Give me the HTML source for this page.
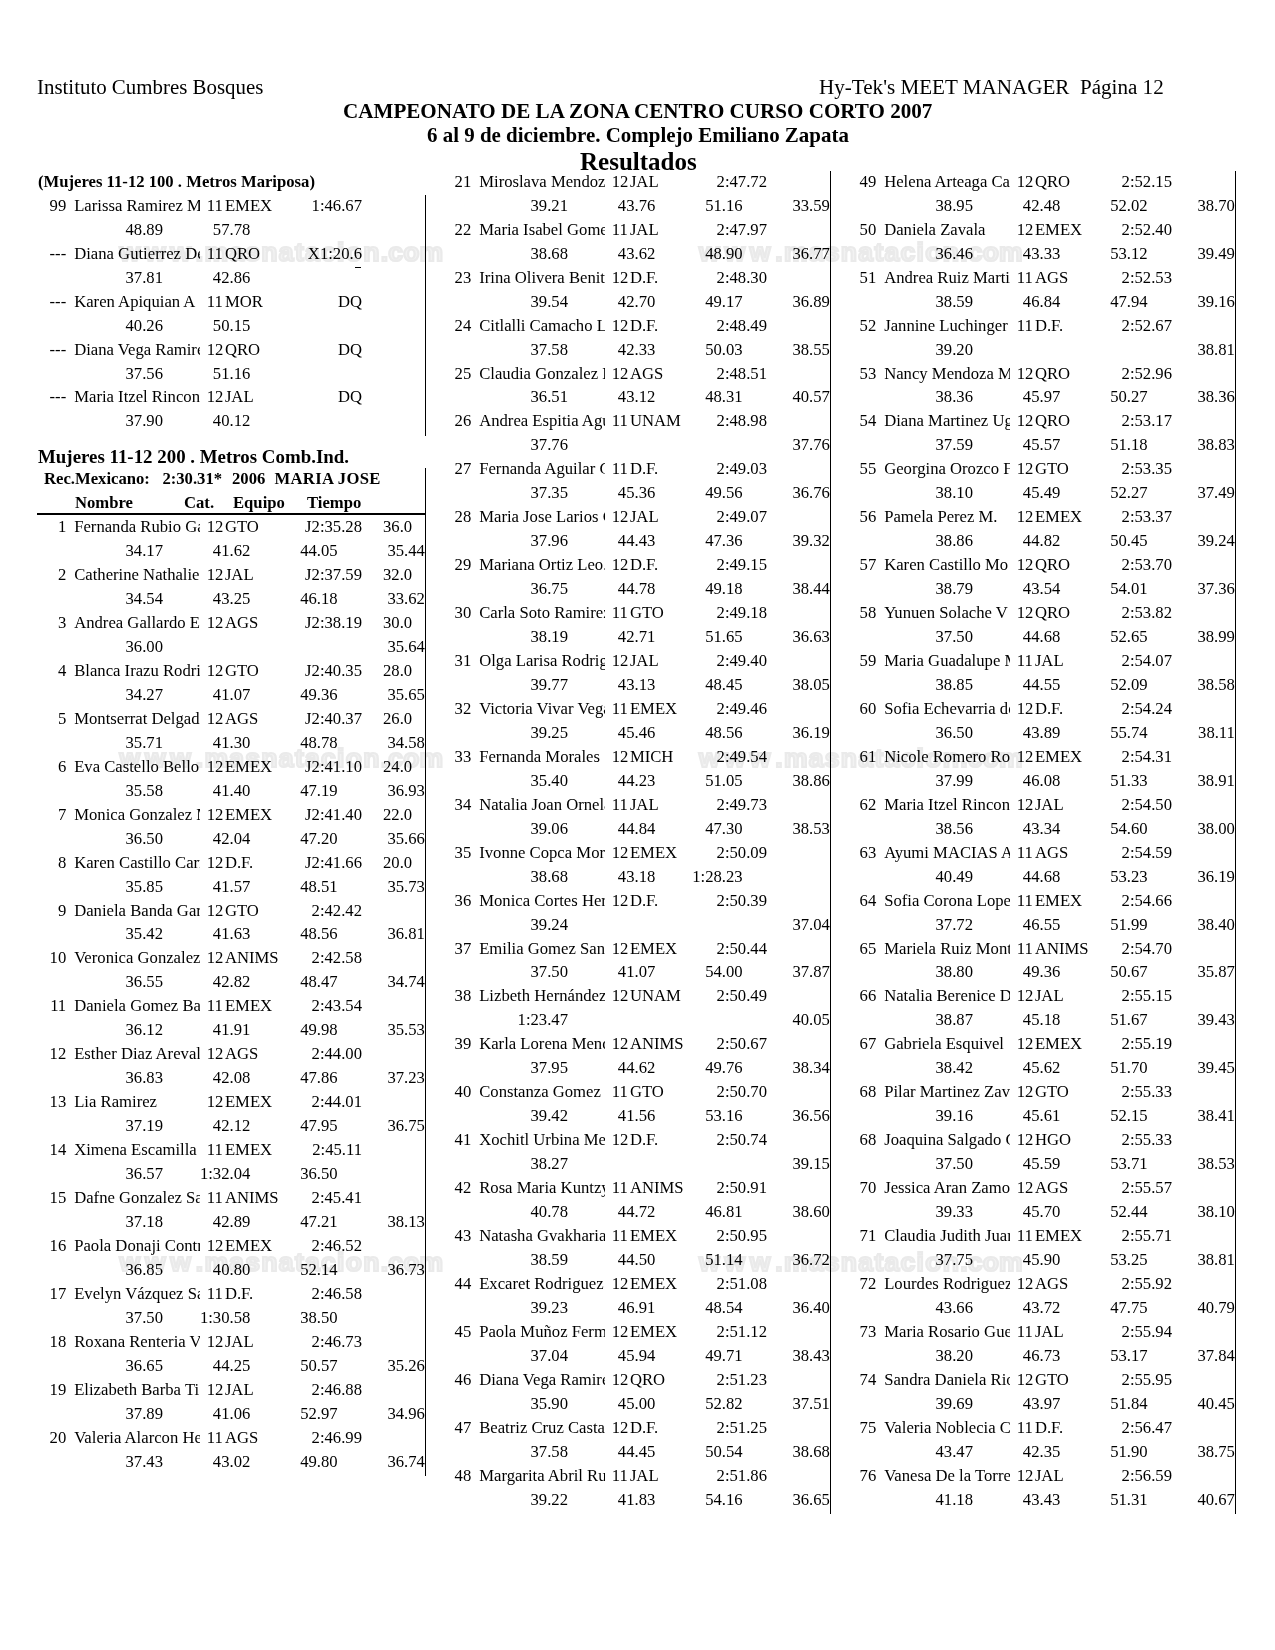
<!DOCTYPE html>
<html><head><meta charset="utf-8"><style>
html,body{margin:0;padding:0;background:#fff;}
#pg{position:absolute;left:0;top:0;width:1275px;height:1650px;will-change:transform;background:#fff;}
body{width:1275px;height:1650px;position:relative;overflow:hidden;}
.t{position:absolute;font-family:"Liberation Serif",serif;font-size:16.67px;line-height:normal;white-space:pre;color:#000;}
.nm{width:125.5px;overflow:hidden;}
.ln{position:absolute;background:#000;}
.wm{position:absolute;font-family:"Liberation Sans",sans-serif;font-weight:bold;font-size:26.5px;line-height:normal;color:#f2f2f2;-webkit-text-stroke:2.2px #eaeaea;white-space:pre;}
</style></head><body><div id="pg">
<div class="wm" style="left:119.5px;top:237px"><span style="letter-spacing:4.8px">www</span><span style="letter-spacing:1.3px">.masnatacion</span><span style="letter-spacing:0.2px">.com</span></div><div class="wm" style="left:699px;top:237px"><span style="letter-spacing:4.8px">www</span><span style="letter-spacing:1.3px">.masnatacion</span><span style="letter-spacing:0.2px">.com</span></div><div class="wm" style="left:119.5px;top:743px"><span style="letter-spacing:4.8px">www</span><span style="letter-spacing:1.3px">.masnatacion</span><span style="letter-spacing:0.2px">.com</span></div><div class="wm" style="left:699px;top:743px"><span style="letter-spacing:4.8px">www</span><span style="letter-spacing:1.3px">.masnatacion</span><span style="letter-spacing:0.2px">.com</span></div><div class="wm" style="left:119.5px;top:1247px"><span style="letter-spacing:4.8px">www</span><span style="letter-spacing:1.3px">.masnatacion</span><span style="letter-spacing:0.2px">.com</span></div><div class="wm" style="left:699px;top:1247px"><span style="letter-spacing:4.8px">www</span><span style="letter-spacing:1.3px">.masnatacion</span><span style="letter-spacing:0.2px">.com</span></div>
<div class="t" style="top:75px;left:37.00px;font-size:20.9px;">Instituto Cumbres Bosques</div>
<div class="t" style="top:75px;left:819.00px;font-size:21.1px;">Hy-Tek&#x27;s MEET MANAGER  Página 12</div>
<div class="t" style="top:99px;left:343.00px;font-size:21.1px;font-weight:bold;">CAMPEONATO DE LA ZONA CENTRO CURSO CORTO 2007</div>
<div class="t" style="top:123px;left:427.00px;font-size:20.95px;font-weight:bold;">6 al 9 de diciembre. Complejo Emiliano Zapata</div>
<div class="t" style="top:148px;left:580.00px;font-size:25px;font-weight:bold;">Resultados</div>
<div class="t" style="top:172px;left:38.00px;font-weight:bold;">(Mujeres 11-12 100 . Metros Mariposa)</div>
<div class="t" style="top:196px;right:1208.80px;">99</div>
<div class="t nm" style="top:196px;left:74.20px">Larissa Ramirez M</div>
<div class="t" style="top:196px;left:206.70px;">11</div>
<div class="t" style="top:196px;left:224.90px;">EMEX</div>
<div class="t" style="top:196px;right:913.00px;">1:46.67</div>
<div class="t" style="top:220px;right:1112.00px;">48.89</div>
<div class="t" style="top:220px;right:1024.70px;">57.78</div>
<div class="t" style="top:244px;right:1208.80px;">---</div>
<div class="t nm" style="top:244px;left:74.20px">Diana Gutierrez De</div>
<div class="t" style="top:244px;left:206.70px;">11</div>
<div class="t" style="top:244px;left:224.90px;">QRO</div>
<div class="t" style="top:244px;right:913.00px;">X1:20.6</div>
<div class="t" style="top:268px;right:1112.00px;">37.81</div>
<div class="t" style="top:268px;right:1024.70px;">42.86</div>
<div class="t" style="top:292px;right:1208.80px;">---</div>
<div class="t nm" style="top:292px;left:74.20px">Karen Apiquian A</div>
<div class="t" style="top:292px;left:206.70px;">11</div>
<div class="t" style="top:292px;left:224.90px;">MOR</div>
<div class="t" style="top:292px;right:913.00px;">DQ</div>
<div class="t" style="top:316px;right:1112.00px;">40.26</div>
<div class="t" style="top:316px;right:1024.70px;">50.15</div>
<div class="t" style="top:340px;right:1208.80px;">---</div>
<div class="t nm" style="top:340px;left:74.20px">Diana Vega Ramirez</div>
<div class="t" style="top:340px;left:206.70px;">12</div>
<div class="t" style="top:340px;left:224.90px;">QRO</div>
<div class="t" style="top:340px;right:913.00px;">DQ</div>
<div class="t" style="top:364px;right:1112.00px;">37.56</div>
<div class="t" style="top:364px;right:1024.70px;">51.16</div>
<div class="t" style="top:387px;right:1208.80px;">---</div>
<div class="t nm" style="top:387px;left:74.20px">Maria Itzel Rincon</div>
<div class="t" style="top:387px;left:206.70px;">12</div>
<div class="t" style="top:387px;left:224.90px;">JAL</div>
<div class="t" style="top:387px;right:913.00px;">DQ</div>
<div class="t" style="top:411px;right:1112.00px;">37.90</div>
<div class="t" style="top:411px;right:1024.70px;">40.12</div>
<div class="t" style="top:446px;left:38.00px;font-size:18.9px;font-weight:bold;">Mujeres 11-12 200 . Metros Comb.Ind.</div>
<div class="t" style="top:469px;left:44.00px;font-weight:bold;">Rec.Mexicano:   2:30.31*</div>
<div class="t" style="top:469px;left:232.00px;font-weight:bold;">2006</div>
<div class="t" style="top:469px;left:274.50px;font-weight:bold;letter-spacing:0.3px;">MARIA JOSE</div>
<div class="t" style="top:493px;left:75.00px;font-weight:bold;">Nombre</div>
<div class="t" style="top:493px;left:184.00px;font-weight:bold;">Cat.</div>
<div class="t" style="top:493px;left:233.00px;font-weight:bold;">Equipo</div>
<div class="t" style="top:493px;left:307.00px;font-weight:bold;">Tiempo</div>
<div class="ln" style="left:37px;top:513px;width:389px;height:2px"></div>
<div class="t" style="top:517px;right:1208.80px;">1</div>
<div class="t nm" style="top:517px;left:74.20px">Fernanda Rubio Garcia</div>
<div class="t" style="top:517px;left:206.70px;">12</div>
<div class="t" style="top:517px;left:224.90px;">GTO</div>
<div class="t" style="top:517px;right:913.00px;">J2:35.28</div>
<div class="t" style="top:517px;left:383.00px;">36.0</div>
<div class="t" style="top:541px;right:1112.00px;">34.17</div>
<div class="t" style="top:541px;right:1024.70px;">41.62</div>
<div class="t" style="top:541px;right:937.40px;">44.05</div>
<div class="t" style="top:541px;right:850.10px;">35.44</div>
<div class="t" style="top:565px;right:1208.80px;">2</div>
<div class="t nm" style="top:565px;left:74.20px">Catherine Nathalie</div>
<div class="t" style="top:565px;left:206.70px;">12</div>
<div class="t" style="top:565px;left:224.90px;">JAL</div>
<div class="t" style="top:565px;right:913.00px;">J2:37.59</div>
<div class="t" style="top:565px;left:383.00px;">32.0</div>
<div class="t" style="top:589px;right:1112.00px;">34.54</div>
<div class="t" style="top:589px;right:1024.70px;">43.25</div>
<div class="t" style="top:589px;right:937.40px;">46.18</div>
<div class="t" style="top:589px;right:850.10px;">33.62</div>
<div class="t" style="top:613px;right:1208.80px;">3</div>
<div class="t nm" style="top:613px;left:74.20px">Andrea Gallardo E</div>
<div class="t" style="top:613px;left:206.70px;">12</div>
<div class="t" style="top:613px;left:224.90px;">AGS</div>
<div class="t" style="top:613px;right:913.00px;">J2:38.19</div>
<div class="t" style="top:613px;left:383.00px;">30.0</div>
<div class="t" style="top:637px;right:1112.00px;">36.00</div>
<div class="t" style="top:637px;right:850.10px;">35.64</div>
<div class="t" style="top:661px;right:1208.80px;">4</div>
<div class="t nm" style="top:661px;left:74.20px">Blanca Irazu Rodriguez</div>
<div class="t" style="top:661px;left:206.70px;">12</div>
<div class="t" style="top:661px;left:224.90px;">GTO</div>
<div class="t" style="top:661px;right:913.00px;">J2:40.35</div>
<div class="t" style="top:661px;left:383.00px;">28.0</div>
<div class="t" style="top:685px;right:1112.00px;">34.27</div>
<div class="t" style="top:685px;right:1024.70px;">41.07</div>
<div class="t" style="top:685px;right:937.40px;">49.36</div>
<div class="t" style="top:685px;right:850.10px;">35.65</div>
<div class="t" style="top:709px;right:1208.80px;">5</div>
<div class="t nm" style="top:709px;left:74.20px">Montserrat Delgado</div>
<div class="t" style="top:709px;left:206.70px;">12</div>
<div class="t" style="top:709px;left:224.90px;">AGS</div>
<div class="t" style="top:709px;right:913.00px;">J2:40.37</div>
<div class="t" style="top:709px;left:383.00px;">26.0</div>
<div class="t" style="top:733px;right:1112.00px;">35.71</div>
<div class="t" style="top:733px;right:1024.70px;">41.30</div>
<div class="t" style="top:733px;right:937.40px;">48.78</div>
<div class="t" style="top:733px;right:850.10px;">34.58</div>
<div class="t" style="top:757px;right:1208.80px;">6</div>
<div class="t nm" style="top:757px;left:74.20px">Eva Castello Bello</div>
<div class="t" style="top:757px;left:206.70px;">12</div>
<div class="t" style="top:757px;left:224.90px;">EMEX</div>
<div class="t" style="top:757px;right:913.00px;">J2:41.10</div>
<div class="t" style="top:757px;left:383.00px;">24.0</div>
<div class="t" style="top:781px;right:1112.00px;">35.58</div>
<div class="t" style="top:781px;right:1024.70px;">41.40</div>
<div class="t" style="top:781px;right:937.40px;">47.19</div>
<div class="t" style="top:781px;right:850.10px;">36.93</div>
<div class="t" style="top:805px;right:1208.80px;">7</div>
<div class="t nm" style="top:805px;left:74.20px">Monica Gonzalez M</div>
<div class="t" style="top:805px;left:206.70px;">12</div>
<div class="t" style="top:805px;left:224.90px;">EMEX</div>
<div class="t" style="top:805px;right:913.00px;">J2:41.40</div>
<div class="t" style="top:805px;left:383.00px;">22.0</div>
<div class="t" style="top:829px;right:1112.00px;">36.50</div>
<div class="t" style="top:829px;right:1024.70px;">42.04</div>
<div class="t" style="top:829px;right:937.40px;">47.20</div>
<div class="t" style="top:829px;right:850.10px;">35.66</div>
<div class="t" style="top:853px;right:1208.80px;">8</div>
<div class="t nm" style="top:853px;left:74.20px">Karen Castillo Carr</div>
<div class="t" style="top:853px;left:206.70px;">12</div>
<div class="t" style="top:853px;left:224.90px;">D.F.</div>
<div class="t" style="top:853px;right:913.00px;">J2:41.66</div>
<div class="t" style="top:853px;left:383.00px;">20.0</div>
<div class="t" style="top:877px;right:1112.00px;">35.85</div>
<div class="t" style="top:877px;right:1024.70px;">41.57</div>
<div class="t" style="top:877px;right:937.40px;">48.51</div>
<div class="t" style="top:877px;right:850.10px;">35.73</div>
<div class="t" style="top:901px;right:1208.80px;">9</div>
<div class="t nm" style="top:901px;left:74.20px">Daniela Banda Garcia</div>
<div class="t" style="top:901px;left:206.70px;">12</div>
<div class="t" style="top:901px;left:224.90px;">GTO</div>
<div class="t" style="top:901px;right:913.00px;">2:42.42</div>
<div class="t" style="top:924px;right:1112.00px;">35.42</div>
<div class="t" style="top:924px;right:1024.70px;">41.63</div>
<div class="t" style="top:924px;right:937.40px;">48.56</div>
<div class="t" style="top:924px;right:850.10px;">36.81</div>
<div class="t" style="top:948px;right:1208.80px;">10</div>
<div class="t nm" style="top:948px;left:74.20px">Veronica Gonzalez</div>
<div class="t" style="top:948px;left:206.70px;">12</div>
<div class="t" style="top:948px;left:224.90px;">ANIMS</div>
<div class="t" style="top:948px;right:913.00px;">2:42.58</div>
<div class="t" style="top:972px;right:1112.00px;">36.55</div>
<div class="t" style="top:972px;right:1024.70px;">42.82</div>
<div class="t" style="top:972px;right:937.40px;">48.47</div>
<div class="t" style="top:972px;right:850.10px;">34.74</div>
<div class="t" style="top:996px;right:1208.80px;">11</div>
<div class="t nm" style="top:996px;left:74.20px">Daniela Gomez Bautista</div>
<div class="t" style="top:996px;left:206.70px;">11</div>
<div class="t" style="top:996px;left:224.90px;">EMEX</div>
<div class="t" style="top:996px;right:913.00px;">2:43.54</div>
<div class="t" style="top:1020px;right:1112.00px;">36.12</div>
<div class="t" style="top:1020px;right:1024.70px;">41.91</div>
<div class="t" style="top:1020px;right:937.40px;">49.98</div>
<div class="t" style="top:1020px;right:850.10px;">35.53</div>
<div class="t" style="top:1044px;right:1208.80px;">12</div>
<div class="t nm" style="top:1044px;left:74.20px">Esther Diaz Arevalo</div>
<div class="t" style="top:1044px;left:206.70px;">12</div>
<div class="t" style="top:1044px;left:224.90px;">AGS</div>
<div class="t" style="top:1044px;right:913.00px;">2:44.00</div>
<div class="t" style="top:1068px;right:1112.00px;">36.83</div>
<div class="t" style="top:1068px;right:1024.70px;">42.08</div>
<div class="t" style="top:1068px;right:937.40px;">47.86</div>
<div class="t" style="top:1068px;right:850.10px;">37.23</div>
<div class="t" style="top:1092px;right:1208.80px;">13</div>
<div class="t nm" style="top:1092px;left:74.20px">Lia Ramirez</div>
<div class="t" style="top:1092px;left:206.70px;">12</div>
<div class="t" style="top:1092px;left:224.90px;">EMEX</div>
<div class="t" style="top:1092px;right:913.00px;">2:44.01</div>
<div class="t" style="top:1116px;right:1112.00px;">37.19</div>
<div class="t" style="top:1116px;right:1024.70px;">42.12</div>
<div class="t" style="top:1116px;right:937.40px;">47.95</div>
<div class="t" style="top:1116px;right:850.10px;">36.75</div>
<div class="t" style="top:1140px;right:1208.80px;">14</div>
<div class="t nm" style="top:1140px;left:74.20px">Ximena Escamilla</div>
<div class="t" style="top:1140px;left:206.70px;">11</div>
<div class="t" style="top:1140px;left:224.90px;">EMEX</div>
<div class="t" style="top:1140px;right:913.00px;">2:45.11</div>
<div class="t" style="top:1164px;right:1112.00px;">36.57</div>
<div class="t" style="top:1164px;right:1024.70px;">1:32.04</div>
<div class="t" style="top:1164px;right:937.40px;">36.50</div>
<div class="t" style="top:1188px;right:1208.80px;">15</div>
<div class="t nm" style="top:1188px;left:74.20px">Dafne Gonzalez Sanchez</div>
<div class="t" style="top:1188px;left:206.70px;">11</div>
<div class="t" style="top:1188px;left:224.90px;">ANIMS</div>
<div class="t" style="top:1188px;right:913.00px;">2:45.41</div>
<div class="t" style="top:1212px;right:1112.00px;">37.18</div>
<div class="t" style="top:1212px;right:1024.70px;">42.89</div>
<div class="t" style="top:1212px;right:937.40px;">47.21</div>
<div class="t" style="top:1212px;right:850.10px;">38.13</div>
<div class="t" style="top:1236px;right:1208.80px;">16</div>
<div class="t nm" style="top:1236px;left:74.20px">Paola Donaji Contreras</div>
<div class="t" style="top:1236px;left:206.70px;">12</div>
<div class="t" style="top:1236px;left:224.90px;">EMEX</div>
<div class="t" style="top:1236px;right:913.00px;">2:46.52</div>
<div class="t" style="top:1260px;right:1112.00px;">36.85</div>
<div class="t" style="top:1260px;right:1024.70px;">40.80</div>
<div class="t" style="top:1260px;right:937.40px;">52.14</div>
<div class="t" style="top:1260px;right:850.10px;">36.73</div>
<div class="t" style="top:1284px;right:1208.80px;">17</div>
<div class="t nm" style="top:1284px;left:74.20px">Evelyn Vázquez Sanchez</div>
<div class="t" style="top:1284px;left:206.70px;">11</div>
<div class="t" style="top:1284px;left:224.90px;">D.F.</div>
<div class="t" style="top:1284px;right:913.00px;">2:46.58</div>
<div class="t" style="top:1308px;right:1112.00px;">37.50</div>
<div class="t" style="top:1308px;right:1024.70px;">1:30.58</div>
<div class="t" style="top:1308px;right:937.40px;">38.50</div>
<div class="t" style="top:1332px;right:1208.80px;">18</div>
<div class="t nm" style="top:1332px;left:74.20px">Roxana Renteria V</div>
<div class="t" style="top:1332px;left:206.70px;">12</div>
<div class="t" style="top:1332px;left:224.90px;">JAL</div>
<div class="t" style="top:1332px;right:913.00px;">2:46.73</div>
<div class="t" style="top:1356px;right:1112.00px;">36.65</div>
<div class="t" style="top:1356px;right:1024.70px;">44.25</div>
<div class="t" style="top:1356px;right:937.40px;">50.57</div>
<div class="t" style="top:1356px;right:850.10px;">35.26</div>
<div class="t" style="top:1380px;right:1208.80px;">19</div>
<div class="t nm" style="top:1380px;left:74.20px">Elizabeth Barba Ti</div>
<div class="t" style="top:1380px;left:206.70px;">12</div>
<div class="t" style="top:1380px;left:224.90px;">JAL</div>
<div class="t" style="top:1380px;right:913.00px;">2:46.88</div>
<div class="t" style="top:1404px;right:1112.00px;">37.89</div>
<div class="t" style="top:1404px;right:1024.70px;">41.06</div>
<div class="t" style="top:1404px;right:937.40px;">52.97</div>
<div class="t" style="top:1404px;right:850.10px;">34.96</div>
<div class="t" style="top:1428px;right:1208.80px;">20</div>
<div class="t nm" style="top:1428px;left:74.20px">Valeria Alarcon Hernandez</div>
<div class="t" style="top:1428px;left:206.70px;">11</div>
<div class="t" style="top:1428px;left:224.90px;">AGS</div>
<div class="t" style="top:1428px;right:913.00px;">2:46.99</div>
<div class="t" style="top:1452px;right:1112.00px;">37.43</div>
<div class="t" style="top:1452px;right:1024.70px;">43.02</div>
<div class="t" style="top:1452px;right:937.40px;">49.80</div>
<div class="t" style="top:1452px;right:850.10px;">36.74</div>
<div class="t" style="top:172px;right:803.80px;">21</div>
<div class="t nm" style="top:172px;left:479.20px">Miroslava Mendoza</div>
<div class="t" style="top:172px;left:611.70px;">12</div>
<div class="t" style="top:172px;left:629.90px;">JAL</div>
<div class="t" style="top:172px;right:508.00px;">2:47.72</div>
<div class="t" style="top:196px;right:707.00px;">39.21</div>
<div class="t" style="top:196px;right:619.70px;">43.76</div>
<div class="t" style="top:196px;right:532.40px;">51.16</div>
<div class="t" style="top:196px;right:445.10px;">33.59</div>
<div class="t" style="top:220px;right:803.80px;">22</div>
<div class="t nm" style="top:220px;left:479.20px">Maria Isabel Gomez</div>
<div class="t" style="top:220px;left:611.70px;">11</div>
<div class="t" style="top:220px;left:629.90px;">JAL</div>
<div class="t" style="top:220px;right:508.00px;">2:47.97</div>
<div class="t" style="top:244px;right:707.00px;">38.68</div>
<div class="t" style="top:244px;right:619.70px;">43.62</div>
<div class="t" style="top:244px;right:532.40px;">48.90</div>
<div class="t" style="top:244px;right:445.10px;">36.77</div>
<div class="t" style="top:268px;right:803.80px;">23</div>
<div class="t nm" style="top:268px;left:479.20px">Irina Olivera Benitez</div>
<div class="t" style="top:268px;left:611.70px;">12</div>
<div class="t" style="top:268px;left:629.90px;">D.F.</div>
<div class="t" style="top:268px;right:508.00px;">2:48.30</div>
<div class="t" style="top:292px;right:707.00px;">39.54</div>
<div class="t" style="top:292px;right:619.70px;">42.70</div>
<div class="t" style="top:292px;right:532.40px;">49.17</div>
<div class="t" style="top:292px;right:445.10px;">36.89</div>
<div class="t" style="top:316px;right:803.80px;">24</div>
<div class="t nm" style="top:316px;left:479.20px">Citlalli Camacho L</div>
<div class="t" style="top:316px;left:611.70px;">12</div>
<div class="t" style="top:316px;left:629.90px;">D.F.</div>
<div class="t" style="top:316px;right:508.00px;">2:48.49</div>
<div class="t" style="top:340px;right:707.00px;">37.58</div>
<div class="t" style="top:340px;right:619.70px;">42.33</div>
<div class="t" style="top:340px;right:532.40px;">50.03</div>
<div class="t" style="top:340px;right:445.10px;">38.55</div>
<div class="t" style="top:364px;right:803.80px;">25</div>
<div class="t nm" style="top:364px;left:479.20px">Claudia Gonzalez M</div>
<div class="t" style="top:364px;left:611.70px;">12</div>
<div class="t" style="top:364px;left:629.90px;">AGS</div>
<div class="t" style="top:364px;right:508.00px;">2:48.51</div>
<div class="t" style="top:387px;right:707.00px;">36.51</div>
<div class="t" style="top:387px;right:619.70px;">43.12</div>
<div class="t" style="top:387px;right:532.40px;">48.31</div>
<div class="t" style="top:387px;right:445.10px;">40.57</div>
<div class="t" style="top:411px;right:803.80px;">26</div>
<div class="t nm" style="top:411px;left:479.20px">Andrea Espitia Aguilar</div>
<div class="t" style="top:411px;left:611.70px;">11</div>
<div class="t" style="top:411px;left:629.90px;">UNAM</div>
<div class="t" style="top:411px;right:508.00px;">2:48.98</div>
<div class="t" style="top:435px;right:707.00px;">37.76</div>
<div class="t" style="top:435px;right:445.10px;">37.76</div>
<div class="t" style="top:459px;right:803.80px;">27</div>
<div class="t nm" style="top:459px;left:479.20px">Fernanda Aguilar Garcia</div>
<div class="t" style="top:459px;left:611.70px;">11</div>
<div class="t" style="top:459px;left:629.90px;">D.F.</div>
<div class="t" style="top:459px;right:508.00px;">2:49.03</div>
<div class="t" style="top:483px;right:707.00px;">37.35</div>
<div class="t" style="top:483px;right:619.70px;">45.36</div>
<div class="t" style="top:483px;right:532.40px;">49.56</div>
<div class="t" style="top:483px;right:445.10px;">36.76</div>
<div class="t" style="top:507px;right:803.80px;">28</div>
<div class="t nm" style="top:507px;left:479.20px">Maria Jose Larios Garcia</div>
<div class="t" style="top:507px;left:611.70px;">12</div>
<div class="t" style="top:507px;left:629.90px;">JAL</div>
<div class="t" style="top:507px;right:508.00px;">2:49.07</div>
<div class="t" style="top:531px;right:707.00px;">37.96</div>
<div class="t" style="top:531px;right:619.70px;">44.43</div>
<div class="t" style="top:531px;right:532.40px;">47.36</div>
<div class="t" style="top:531px;right:445.10px;">39.32</div>
<div class="t" style="top:555px;right:803.80px;">29</div>
<div class="t nm" style="top:555px;left:479.20px">Mariana Ortiz Leo.</div>
<div class="t" style="top:555px;left:611.70px;">12</div>
<div class="t" style="top:555px;left:629.90px;">D.F.</div>
<div class="t" style="top:555px;right:508.00px;">2:49.15</div>
<div class="t" style="top:579px;right:707.00px;">36.75</div>
<div class="t" style="top:579px;right:619.70px;">44.78</div>
<div class="t" style="top:579px;right:532.40px;">49.18</div>
<div class="t" style="top:579px;right:445.10px;">38.44</div>
<div class="t" style="top:603px;right:803.80px;">30</div>
<div class="t nm" style="top:603px;left:479.20px">Carla Soto Ramirez</div>
<div class="t" style="top:603px;left:611.70px;">11</div>
<div class="t" style="top:603px;left:629.90px;">GTO</div>
<div class="t" style="top:603px;right:508.00px;">2:49.18</div>
<div class="t" style="top:627px;right:707.00px;">38.19</div>
<div class="t" style="top:627px;right:619.70px;">42.71</div>
<div class="t" style="top:627px;right:532.40px;">51.65</div>
<div class="t" style="top:627px;right:445.10px;">36.63</div>
<div class="t" style="top:651px;right:803.80px;">31</div>
<div class="t nm" style="top:651px;left:479.20px">Olga Larisa Rodriguez</div>
<div class="t" style="top:651px;left:611.70px;">12</div>
<div class="t" style="top:651px;left:629.90px;">JAL</div>
<div class="t" style="top:651px;right:508.00px;">2:49.40</div>
<div class="t" style="top:675px;right:707.00px;">39.77</div>
<div class="t" style="top:675px;right:619.70px;">43.13</div>
<div class="t" style="top:675px;right:532.40px;">48.45</div>
<div class="t" style="top:675px;right:445.10px;">38.05</div>
<div class="t" style="top:699px;right:803.80px;">32</div>
<div class="t nm" style="top:699px;left:479.20px">Victoria Vivar Vega</div>
<div class="t" style="top:699px;left:611.70px;">11</div>
<div class="t" style="top:699px;left:629.90px;">EMEX</div>
<div class="t" style="top:699px;right:508.00px;">2:49.46</div>
<div class="t" style="top:723px;right:707.00px;">39.25</div>
<div class="t" style="top:723px;right:619.70px;">45.46</div>
<div class="t" style="top:723px;right:532.40px;">48.56</div>
<div class="t" style="top:723px;right:445.10px;">36.19</div>
<div class="t" style="top:747px;right:803.80px;">33</div>
<div class="t nm" style="top:747px;left:479.20px">Fernanda Morales</div>
<div class="t" style="top:747px;left:611.70px;">12</div>
<div class="t" style="top:747px;left:629.90px;">MICH</div>
<div class="t" style="top:747px;right:508.00px;">2:49.54</div>
<div class="t" style="top:771px;right:707.00px;">35.40</div>
<div class="t" style="top:771px;right:619.70px;">44.23</div>
<div class="t" style="top:771px;right:532.40px;">51.05</div>
<div class="t" style="top:771px;right:445.10px;">38.86</div>
<div class="t" style="top:795px;right:803.80px;">34</div>
<div class="t nm" style="top:795px;left:479.20px">Natalia Joan Ornelas</div>
<div class="t" style="top:795px;left:611.70px;">11</div>
<div class="t" style="top:795px;left:629.90px;">JAL</div>
<div class="t" style="top:795px;right:508.00px;">2:49.73</div>
<div class="t" style="top:819px;right:707.00px;">39.06</div>
<div class="t" style="top:819px;right:619.70px;">44.84</div>
<div class="t" style="top:819px;right:532.40px;">47.30</div>
<div class="t" style="top:819px;right:445.10px;">38.53</div>
<div class="t" style="top:843px;right:803.80px;">35</div>
<div class="t nm" style="top:843px;left:479.20px">Ivonne Copca Morales</div>
<div class="t" style="top:843px;left:611.70px;">12</div>
<div class="t" style="top:843px;left:629.90px;">EMEX</div>
<div class="t" style="top:843px;right:508.00px;">2:50.09</div>
<div class="t" style="top:867px;right:707.00px;">38.68</div>
<div class="t" style="top:867px;right:619.70px;">43.18</div>
<div class="t" style="top:867px;right:532.40px;">1:28.23</div>
<div class="t" style="top:891px;right:803.80px;">36</div>
<div class="t nm" style="top:891px;left:479.20px">Monica Cortes Hernandez</div>
<div class="t" style="top:891px;left:611.70px;">12</div>
<div class="t" style="top:891px;left:629.90px;">D.F.</div>
<div class="t" style="top:891px;right:508.00px;">2:50.39</div>
<div class="t" style="top:915px;right:707.00px;">39.24</div>
<div class="t" style="top:915px;right:445.10px;">37.04</div>
<div class="t" style="top:939px;right:803.80px;">37</div>
<div class="t nm" style="top:939px;left:479.20px">Emilia Gomez Sanchez</div>
<div class="t" style="top:939px;left:611.70px;">12</div>
<div class="t" style="top:939px;left:629.90px;">EMEX</div>
<div class="t" style="top:939px;right:508.00px;">2:50.44</div>
<div class="t" style="top:962px;right:707.00px;">37.50</div>
<div class="t" style="top:962px;right:619.70px;">41.07</div>
<div class="t" style="top:962px;right:532.40px;">54.00</div>
<div class="t" style="top:962px;right:445.10px;">37.87</div>
<div class="t" style="top:986px;right:803.80px;">38</div>
<div class="t nm" style="top:986px;left:479.20px">Lizbeth Hernández</div>
<div class="t" style="top:986px;left:611.70px;">12</div>
<div class="t" style="top:986px;left:629.90px;">UNAM</div>
<div class="t" style="top:986px;right:508.00px;">2:50.49</div>
<div class="t" style="top:1010px;right:707.00px;">1:23.47</div>
<div class="t" style="top:1010px;right:445.10px;">40.05</div>
<div class="t" style="top:1034px;right:803.80px;">39</div>
<div class="t nm" style="top:1034px;left:479.20px">Karla Lorena Mendoza</div>
<div class="t" style="top:1034px;left:611.70px;">12</div>
<div class="t" style="top:1034px;left:629.90px;">ANIMS</div>
<div class="t" style="top:1034px;right:508.00px;">2:50.67</div>
<div class="t" style="top:1058px;right:707.00px;">37.95</div>
<div class="t" style="top:1058px;right:619.70px;">44.62</div>
<div class="t" style="top:1058px;right:532.40px;">49.76</div>
<div class="t" style="top:1058px;right:445.10px;">38.34</div>
<div class="t" style="top:1082px;right:803.80px;">40</div>
<div class="t nm" style="top:1082px;left:479.20px">Constanza Gomez</div>
<div class="t" style="top:1082px;left:611.70px;">11</div>
<div class="t" style="top:1082px;left:629.90px;">GTO</div>
<div class="t" style="top:1082px;right:508.00px;">2:50.70</div>
<div class="t" style="top:1106px;right:707.00px;">39.42</div>
<div class="t" style="top:1106px;right:619.70px;">41.56</div>
<div class="t" style="top:1106px;right:532.40px;">53.16</div>
<div class="t" style="top:1106px;right:445.10px;">36.56</div>
<div class="t" style="top:1130px;right:803.80px;">41</div>
<div class="t nm" style="top:1130px;left:479.20px">Xochitl Urbina Mendez</div>
<div class="t" style="top:1130px;left:611.70px;">12</div>
<div class="t" style="top:1130px;left:629.90px;">D.F.</div>
<div class="t" style="top:1130px;right:508.00px;">2:50.74</div>
<div class="t" style="top:1154px;right:707.00px;">38.27</div>
<div class="t" style="top:1154px;right:445.10px;">39.15</div>
<div class="t" style="top:1178px;right:803.80px;">42</div>
<div class="t nm" style="top:1178px;left:479.20px">Rosa Maria Kuntzy</div>
<div class="t" style="top:1178px;left:611.70px;">11</div>
<div class="t" style="top:1178px;left:629.90px;">ANIMS</div>
<div class="t" style="top:1178px;right:508.00px;">2:50.91</div>
<div class="t" style="top:1202px;right:707.00px;">40.78</div>
<div class="t" style="top:1202px;right:619.70px;">44.72</div>
<div class="t" style="top:1202px;right:532.40px;">46.81</div>
<div class="t" style="top:1202px;right:445.10px;">38.60</div>
<div class="t" style="top:1226px;right:803.80px;">43</div>
<div class="t nm" style="top:1226px;left:479.20px">Natasha Gvakharia</div>
<div class="t" style="top:1226px;left:611.70px;">11</div>
<div class="t" style="top:1226px;left:629.90px;">EMEX</div>
<div class="t" style="top:1226px;right:508.00px;">2:50.95</div>
<div class="t" style="top:1250px;right:707.00px;">38.59</div>
<div class="t" style="top:1250px;right:619.70px;">44.50</div>
<div class="t" style="top:1250px;right:532.40px;">51.14</div>
<div class="t" style="top:1250px;right:445.10px;">36.72</div>
<div class="t" style="top:1274px;right:803.80px;">44</div>
<div class="t nm" style="top:1274px;left:479.20px">Excaret Rodriguez</div>
<div class="t" style="top:1274px;left:611.70px;">12</div>
<div class="t" style="top:1274px;left:629.90px;">EMEX</div>
<div class="t" style="top:1274px;right:508.00px;">2:51.08</div>
<div class="t" style="top:1298px;right:707.00px;">39.23</div>
<div class="t" style="top:1298px;right:619.70px;">46.91</div>
<div class="t" style="top:1298px;right:532.40px;">48.54</div>
<div class="t" style="top:1298px;right:445.10px;">36.40</div>
<div class="t" style="top:1322px;right:803.80px;">45</div>
<div class="t nm" style="top:1322px;left:479.20px">Paola Muñoz Fermin</div>
<div class="t" style="top:1322px;left:611.70px;">12</div>
<div class="t" style="top:1322px;left:629.90px;">EMEX</div>
<div class="t" style="top:1322px;right:508.00px;">2:51.12</div>
<div class="t" style="top:1346px;right:707.00px;">37.04</div>
<div class="t" style="top:1346px;right:619.70px;">45.94</div>
<div class="t" style="top:1346px;right:532.40px;">49.71</div>
<div class="t" style="top:1346px;right:445.10px;">38.43</div>
<div class="t" style="top:1370px;right:803.80px;">46</div>
<div class="t nm" style="top:1370px;left:479.20px">Diana Vega Ramirez</div>
<div class="t" style="top:1370px;left:611.70px;">12</div>
<div class="t" style="top:1370px;left:629.90px;">QRO</div>
<div class="t" style="top:1370px;right:508.00px;">2:51.23</div>
<div class="t" style="top:1394px;right:707.00px;">35.90</div>
<div class="t" style="top:1394px;right:619.70px;">45.00</div>
<div class="t" style="top:1394px;right:532.40px;">52.82</div>
<div class="t" style="top:1394px;right:445.10px;">37.51</div>
<div class="t" style="top:1418px;right:803.80px;">47</div>
<div class="t nm" style="top:1418px;left:479.20px">Beatriz Cruz Castaneda</div>
<div class="t" style="top:1418px;left:611.70px;">12</div>
<div class="t" style="top:1418px;left:629.90px;">D.F.</div>
<div class="t" style="top:1418px;right:508.00px;">2:51.25</div>
<div class="t" style="top:1442px;right:707.00px;">37.58</div>
<div class="t" style="top:1442px;right:619.70px;">44.45</div>
<div class="t" style="top:1442px;right:532.40px;">50.54</div>
<div class="t" style="top:1442px;right:445.10px;">38.68</div>
<div class="t" style="top:1466px;right:803.80px;">48</div>
<div class="t nm" style="top:1466px;left:479.20px">Margarita Abril Ruiz</div>
<div class="t" style="top:1466px;left:611.70px;">11</div>
<div class="t" style="top:1466px;left:629.90px;">JAL</div>
<div class="t" style="top:1466px;right:508.00px;">2:51.86</div>
<div class="t" style="top:1490px;right:707.00px;">39.22</div>
<div class="t" style="top:1490px;right:619.70px;">41.83</div>
<div class="t" style="top:1490px;right:532.40px;">54.16</div>
<div class="t" style="top:1490px;right:445.10px;">36.65</div>
<div class="t" style="top:172px;right:398.80px;">49</div>
<div class="t nm" style="top:172px;left:884.20px">Helena Arteaga Castro</div>
<div class="t" style="top:172px;left:1016.70px;">12</div>
<div class="t" style="top:172px;left:1034.90px;">QRO</div>
<div class="t" style="top:172px;right:103.00px;">2:52.15</div>
<div class="t" style="top:196px;right:302.00px;">38.95</div>
<div class="t" style="top:196px;right:214.70px;">42.48</div>
<div class="t" style="top:196px;right:127.40px;">52.02</div>
<div class="t" style="top:196px;right:40.10px;">38.70</div>
<div class="t" style="top:220px;right:398.80px;">50</div>
<div class="t nm" style="top:220px;left:884.20px">Daniela Zavala</div>
<div class="t" style="top:220px;left:1016.70px;">12</div>
<div class="t" style="top:220px;left:1034.90px;">EMEX</div>
<div class="t" style="top:220px;right:103.00px;">2:52.40</div>
<div class="t" style="top:244px;right:302.00px;">36.46</div>
<div class="t" style="top:244px;right:214.70px;">43.33</div>
<div class="t" style="top:244px;right:127.40px;">53.12</div>
<div class="t" style="top:244px;right:40.10px;">39.49</div>
<div class="t" style="top:268px;right:398.80px;">51</div>
<div class="t nm" style="top:268px;left:884.20px">Andrea Ruiz Martinez</div>
<div class="t" style="top:268px;left:1016.70px;">11</div>
<div class="t" style="top:268px;left:1034.90px;">AGS</div>
<div class="t" style="top:268px;right:103.00px;">2:52.53</div>
<div class="t" style="top:292px;right:302.00px;">38.59</div>
<div class="t" style="top:292px;right:214.70px;">46.84</div>
<div class="t" style="top:292px;right:127.40px;">47.94</div>
<div class="t" style="top:292px;right:40.10px;">39.16</div>
<div class="t" style="top:316px;right:398.80px;">52</div>
<div class="t nm" style="top:316px;left:884.20px">Jannine Luchinger</div>
<div class="t" style="top:316px;left:1016.70px;">11</div>
<div class="t" style="top:316px;left:1034.90px;">D.F.</div>
<div class="t" style="top:316px;right:103.00px;">2:52.67</div>
<div class="t" style="top:340px;right:302.00px;">39.20</div>
<div class="t" style="top:340px;right:40.10px;">38.81</div>
<div class="t" style="top:364px;right:398.80px;">53</div>
<div class="t nm" style="top:364px;left:884.20px">Nancy Mendoza M</div>
<div class="t" style="top:364px;left:1016.70px;">12</div>
<div class="t" style="top:364px;left:1034.90px;">QRO</div>
<div class="t" style="top:364px;right:103.00px;">2:52.96</div>
<div class="t" style="top:387px;right:302.00px;">38.36</div>
<div class="t" style="top:387px;right:214.70px;">45.97</div>
<div class="t" style="top:387px;right:127.40px;">50.27</div>
<div class="t" style="top:387px;right:40.10px;">38.36</div>
<div class="t" style="top:411px;right:398.80px;">54</div>
<div class="t nm" style="top:411px;left:884.20px">Diana Martinez Ugalde</div>
<div class="t" style="top:411px;left:1016.70px;">12</div>
<div class="t" style="top:411px;left:1034.90px;">QRO</div>
<div class="t" style="top:411px;right:103.00px;">2:53.17</div>
<div class="t" style="top:435px;right:302.00px;">37.59</div>
<div class="t" style="top:435px;right:214.70px;">45.57</div>
<div class="t" style="top:435px;right:127.40px;">51.18</div>
<div class="t" style="top:435px;right:40.10px;">38.83</div>
<div class="t" style="top:459px;right:398.80px;">55</div>
<div class="t nm" style="top:459px;left:884.20px">Georgina Orozco F</div>
<div class="t" style="top:459px;left:1016.70px;">12</div>
<div class="t" style="top:459px;left:1034.90px;">GTO</div>
<div class="t" style="top:459px;right:103.00px;">2:53.35</div>
<div class="t" style="top:483px;right:302.00px;">38.10</div>
<div class="t" style="top:483px;right:214.70px;">45.49</div>
<div class="t" style="top:483px;right:127.40px;">52.27</div>
<div class="t" style="top:483px;right:40.10px;">37.49</div>
<div class="t" style="top:507px;right:398.80px;">56</div>
<div class="t nm" style="top:507px;left:884.20px">Pamela Perez M.</div>
<div class="t" style="top:507px;left:1016.70px;">12</div>
<div class="t" style="top:507px;left:1034.90px;">EMEX</div>
<div class="t" style="top:507px;right:103.00px;">2:53.37</div>
<div class="t" style="top:531px;right:302.00px;">38.86</div>
<div class="t" style="top:531px;right:214.70px;">44.82</div>
<div class="t" style="top:531px;right:127.40px;">50.45</div>
<div class="t" style="top:531px;right:40.10px;">39.24</div>
<div class="t" style="top:555px;right:398.80px;">57</div>
<div class="t nm" style="top:555px;left:884.20px">Karen Castillo Mo</div>
<div class="t" style="top:555px;left:1016.70px;">12</div>
<div class="t" style="top:555px;left:1034.90px;">QRO</div>
<div class="t" style="top:555px;right:103.00px;">2:53.70</div>
<div class="t" style="top:579px;right:302.00px;">38.79</div>
<div class="t" style="top:579px;right:214.70px;">43.54</div>
<div class="t" style="top:579px;right:127.40px;">54.01</div>
<div class="t" style="top:579px;right:40.10px;">37.36</div>
<div class="t" style="top:603px;right:398.80px;">58</div>
<div class="t nm" style="top:603px;left:884.20px">Yunuen Solache V</div>
<div class="t" style="top:603px;left:1016.70px;">12</div>
<div class="t" style="top:603px;left:1034.90px;">QRO</div>
<div class="t" style="top:603px;right:103.00px;">2:53.82</div>
<div class="t" style="top:627px;right:302.00px;">37.50</div>
<div class="t" style="top:627px;right:214.70px;">44.68</div>
<div class="t" style="top:627px;right:127.40px;">52.65</div>
<div class="t" style="top:627px;right:40.10px;">38.99</div>
<div class="t" style="top:651px;right:398.80px;">59</div>
<div class="t nm" style="top:651px;left:884.20px">Maria Guadalupe M</div>
<div class="t" style="top:651px;left:1016.70px;">11</div>
<div class="t" style="top:651px;left:1034.90px;">JAL</div>
<div class="t" style="top:651px;right:103.00px;">2:54.07</div>
<div class="t" style="top:675px;right:302.00px;">38.85</div>
<div class="t" style="top:675px;right:214.70px;">44.55</div>
<div class="t" style="top:675px;right:127.40px;">52.09</div>
<div class="t" style="top:675px;right:40.10px;">38.58</div>
<div class="t" style="top:699px;right:398.80px;">60</div>
<div class="t nm" style="top:699px;left:884.20px">Sofia Echevarria de</div>
<div class="t" style="top:699px;left:1016.70px;">12</div>
<div class="t" style="top:699px;left:1034.90px;">D.F.</div>
<div class="t" style="top:699px;right:103.00px;">2:54.24</div>
<div class="t" style="top:723px;right:302.00px;">36.50</div>
<div class="t" style="top:723px;right:214.70px;">43.89</div>
<div class="t" style="top:723px;right:127.40px;">55.74</div>
<div class="t" style="top:723px;right:40.10px;">38.11</div>
<div class="t" style="top:747px;right:398.80px;">61</div>
<div class="t nm" style="top:747px;left:884.20px">Nicole Romero Romero</div>
<div class="t" style="top:747px;left:1016.70px;">12</div>
<div class="t" style="top:747px;left:1034.90px;">EMEX</div>
<div class="t" style="top:747px;right:103.00px;">2:54.31</div>
<div class="t" style="top:771px;right:302.00px;">37.99</div>
<div class="t" style="top:771px;right:214.70px;">46.08</div>
<div class="t" style="top:771px;right:127.40px;">51.33</div>
<div class="t" style="top:771px;right:40.10px;">38.91</div>
<div class="t" style="top:795px;right:398.80px;">62</div>
<div class="t nm" style="top:795px;left:884.20px">Maria Itzel Rincon</div>
<div class="t" style="top:795px;left:1016.70px;">12</div>
<div class="t" style="top:795px;left:1034.90px;">JAL</div>
<div class="t" style="top:795px;right:103.00px;">2:54.50</div>
<div class="t" style="top:819px;right:302.00px;">38.56</div>
<div class="t" style="top:819px;right:214.70px;">43.34</div>
<div class="t" style="top:819px;right:127.40px;">54.60</div>
<div class="t" style="top:819px;right:40.10px;">38.00</div>
<div class="t" style="top:843px;right:398.80px;">63</div>
<div class="t nm" style="top:843px;left:884.20px">Ayumi MACIAS A</div>
<div class="t" style="top:843px;left:1016.70px;">11</div>
<div class="t" style="top:843px;left:1034.90px;">AGS</div>
<div class="t" style="top:843px;right:103.00px;">2:54.59</div>
<div class="t" style="top:867px;right:302.00px;">40.49</div>
<div class="t" style="top:867px;right:214.70px;">44.68</div>
<div class="t" style="top:867px;right:127.40px;">53.23</div>
<div class="t" style="top:867px;right:40.10px;">36.19</div>
<div class="t" style="top:891px;right:398.80px;">64</div>
<div class="t nm" style="top:891px;left:884.20px">Sofia Corona Lopez</div>
<div class="t" style="top:891px;left:1016.70px;">11</div>
<div class="t" style="top:891px;left:1034.90px;">EMEX</div>
<div class="t" style="top:891px;right:103.00px;">2:54.66</div>
<div class="t" style="top:915px;right:302.00px;">37.72</div>
<div class="t" style="top:915px;right:214.70px;">46.55</div>
<div class="t" style="top:915px;right:127.40px;">51.99</div>
<div class="t" style="top:915px;right:40.10px;">38.40</div>
<div class="t" style="top:939px;right:398.80px;">65</div>
<div class="t nm" style="top:939px;left:884.20px">Mariela Ruiz Montes</div>
<div class="t" style="top:939px;left:1016.70px;">11</div>
<div class="t" style="top:939px;left:1034.90px;">ANIMS</div>
<div class="t" style="top:939px;right:103.00px;">2:54.70</div>
<div class="t" style="top:962px;right:302.00px;">38.80</div>
<div class="t" style="top:962px;right:214.70px;">49.36</div>
<div class="t" style="top:962px;right:127.40px;">50.67</div>
<div class="t" style="top:962px;right:40.10px;">35.87</div>
<div class="t" style="top:986px;right:398.80px;">66</div>
<div class="t nm" style="top:986px;left:884.20px">Natalia Berenice D</div>
<div class="t" style="top:986px;left:1016.70px;">12</div>
<div class="t" style="top:986px;left:1034.90px;">JAL</div>
<div class="t" style="top:986px;right:103.00px;">2:55.15</div>
<div class="t" style="top:1010px;right:302.00px;">38.87</div>
<div class="t" style="top:1010px;right:214.70px;">45.18</div>
<div class="t" style="top:1010px;right:127.40px;">51.67</div>
<div class="t" style="top:1010px;right:40.10px;">39.43</div>
<div class="t" style="top:1034px;right:398.80px;">67</div>
<div class="t nm" style="top:1034px;left:884.20px">Gabriela Esquivel</div>
<div class="t" style="top:1034px;left:1016.70px;">12</div>
<div class="t" style="top:1034px;left:1034.90px;">EMEX</div>
<div class="t" style="top:1034px;right:103.00px;">2:55.19</div>
<div class="t" style="top:1058px;right:302.00px;">38.42</div>
<div class="t" style="top:1058px;right:214.70px;">45.62</div>
<div class="t" style="top:1058px;right:127.40px;">51.70</div>
<div class="t" style="top:1058px;right:40.10px;">39.45</div>
<div class="t" style="top:1082px;right:398.80px;">68</div>
<div class="t nm" style="top:1082px;left:884.20px">Pilar Martinez Zavala</div>
<div class="t" style="top:1082px;left:1016.70px;">12</div>
<div class="t" style="top:1082px;left:1034.90px;">GTO</div>
<div class="t" style="top:1082px;right:103.00px;">2:55.33</div>
<div class="t" style="top:1106px;right:302.00px;">39.16</div>
<div class="t" style="top:1106px;right:214.70px;">45.61</div>
<div class="t" style="top:1106px;right:127.40px;">52.15</div>
<div class="t" style="top:1106px;right:40.10px;">38.41</div>
<div class="t" style="top:1130px;right:398.80px;">68</div>
<div class="t nm" style="top:1130px;left:884.20px">Joaquina Salgado G</div>
<div class="t" style="top:1130px;left:1016.70px;">12</div>
<div class="t" style="top:1130px;left:1034.90px;">HGO</div>
<div class="t" style="top:1130px;right:103.00px;">2:55.33</div>
<div class="t" style="top:1154px;right:302.00px;">37.50</div>
<div class="t" style="top:1154px;right:214.70px;">45.59</div>
<div class="t" style="top:1154px;right:127.40px;">53.71</div>
<div class="t" style="top:1154px;right:40.10px;">38.53</div>
<div class="t" style="top:1178px;right:398.80px;">70</div>
<div class="t nm" style="top:1178px;left:884.20px">Jessica Aran Zamora</div>
<div class="t" style="top:1178px;left:1016.70px;">12</div>
<div class="t" style="top:1178px;left:1034.90px;">AGS</div>
<div class="t" style="top:1178px;right:103.00px;">2:55.57</div>
<div class="t" style="top:1202px;right:302.00px;">39.33</div>
<div class="t" style="top:1202px;right:214.70px;">45.70</div>
<div class="t" style="top:1202px;right:127.40px;">52.44</div>
<div class="t" style="top:1202px;right:40.10px;">38.10</div>
<div class="t" style="top:1226px;right:398.80px;">71</div>
<div class="t nm" style="top:1226px;left:884.20px">Claudia Judith Juarez</div>
<div class="t" style="top:1226px;left:1016.70px;">11</div>
<div class="t" style="top:1226px;left:1034.90px;">EMEX</div>
<div class="t" style="top:1226px;right:103.00px;">2:55.71</div>
<div class="t" style="top:1250px;right:302.00px;">37.75</div>
<div class="t" style="top:1250px;right:214.70px;">45.90</div>
<div class="t" style="top:1250px;right:127.40px;">53.25</div>
<div class="t" style="top:1250px;right:40.10px;">38.81</div>
<div class="t" style="top:1274px;right:398.80px;">72</div>
<div class="t nm" style="top:1274px;left:884.20px">Lourdes Rodriguez</div>
<div class="t" style="top:1274px;left:1016.70px;">12</div>
<div class="t" style="top:1274px;left:1034.90px;">AGS</div>
<div class="t" style="top:1274px;right:103.00px;">2:55.92</div>
<div class="t" style="top:1298px;right:302.00px;">43.66</div>
<div class="t" style="top:1298px;right:214.70px;">43.72</div>
<div class="t" style="top:1298px;right:127.40px;">47.75</div>
<div class="t" style="top:1298px;right:40.10px;">40.79</div>
<div class="t" style="top:1322px;right:398.80px;">73</div>
<div class="t nm" style="top:1322px;left:884.20px">Maria Rosario Guerrero</div>
<div class="t" style="top:1322px;left:1016.70px;">11</div>
<div class="t" style="top:1322px;left:1034.90px;">JAL</div>
<div class="t" style="top:1322px;right:103.00px;">2:55.94</div>
<div class="t" style="top:1346px;right:302.00px;">38.20</div>
<div class="t" style="top:1346px;right:214.70px;">46.73</div>
<div class="t" style="top:1346px;right:127.40px;">53.17</div>
<div class="t" style="top:1346px;right:40.10px;">37.84</div>
<div class="t" style="top:1370px;right:398.80px;">74</div>
<div class="t nm" style="top:1370px;left:884.20px">Sandra Daniela Rios</div>
<div class="t" style="top:1370px;left:1016.70px;">12</div>
<div class="t" style="top:1370px;left:1034.90px;">GTO</div>
<div class="t" style="top:1370px;right:103.00px;">2:55.95</div>
<div class="t" style="top:1394px;right:302.00px;">39.69</div>
<div class="t" style="top:1394px;right:214.70px;">43.97</div>
<div class="t" style="top:1394px;right:127.40px;">51.84</div>
<div class="t" style="top:1394px;right:40.10px;">40.45</div>
<div class="t" style="top:1418px;right:398.80px;">75</div>
<div class="t nm" style="top:1418px;left:884.20px">Valeria Noblecia C</div>
<div class="t" style="top:1418px;left:1016.70px;">11</div>
<div class="t" style="top:1418px;left:1034.90px;">D.F.</div>
<div class="t" style="top:1418px;right:103.00px;">2:56.47</div>
<div class="t" style="top:1442px;right:302.00px;">43.47</div>
<div class="t" style="top:1442px;right:214.70px;">42.35</div>
<div class="t" style="top:1442px;right:127.40px;">51.90</div>
<div class="t" style="top:1442px;right:40.10px;">38.75</div>
<div class="t" style="top:1466px;right:398.80px;">76</div>
<div class="t nm" style="top:1466px;left:884.20px">Vanesa De la Torre</div>
<div class="t" style="top:1466px;left:1016.70px;">12</div>
<div class="t" style="top:1466px;left:1034.90px;">JAL</div>
<div class="t" style="top:1466px;right:103.00px;">2:56.59</div>
<div class="t" style="top:1490px;right:302.00px;">41.18</div>
<div class="t" style="top:1490px;right:214.70px;">43.43</div>
<div class="t" style="top:1490px;right:127.40px;">51.31</div>
<div class="t" style="top:1490px;right:40.10px;">40.67</div>
<div class="ln" style="left:425px;top:195px;width:1px;height:241px"></div>
<div class="ln" style="left:425px;top:468px;width:1px;height:1008px"></div>
<div class="ln" style="left:830px;top:171px;width:1px;height:1343px"></div>
<div class="ln" style="left:1235px;top:171px;width:1px;height:1343px"></div>
<div class="ln" style="left:355px;top:267px;width:6px;height:1px"></div>
</div></body></html>
